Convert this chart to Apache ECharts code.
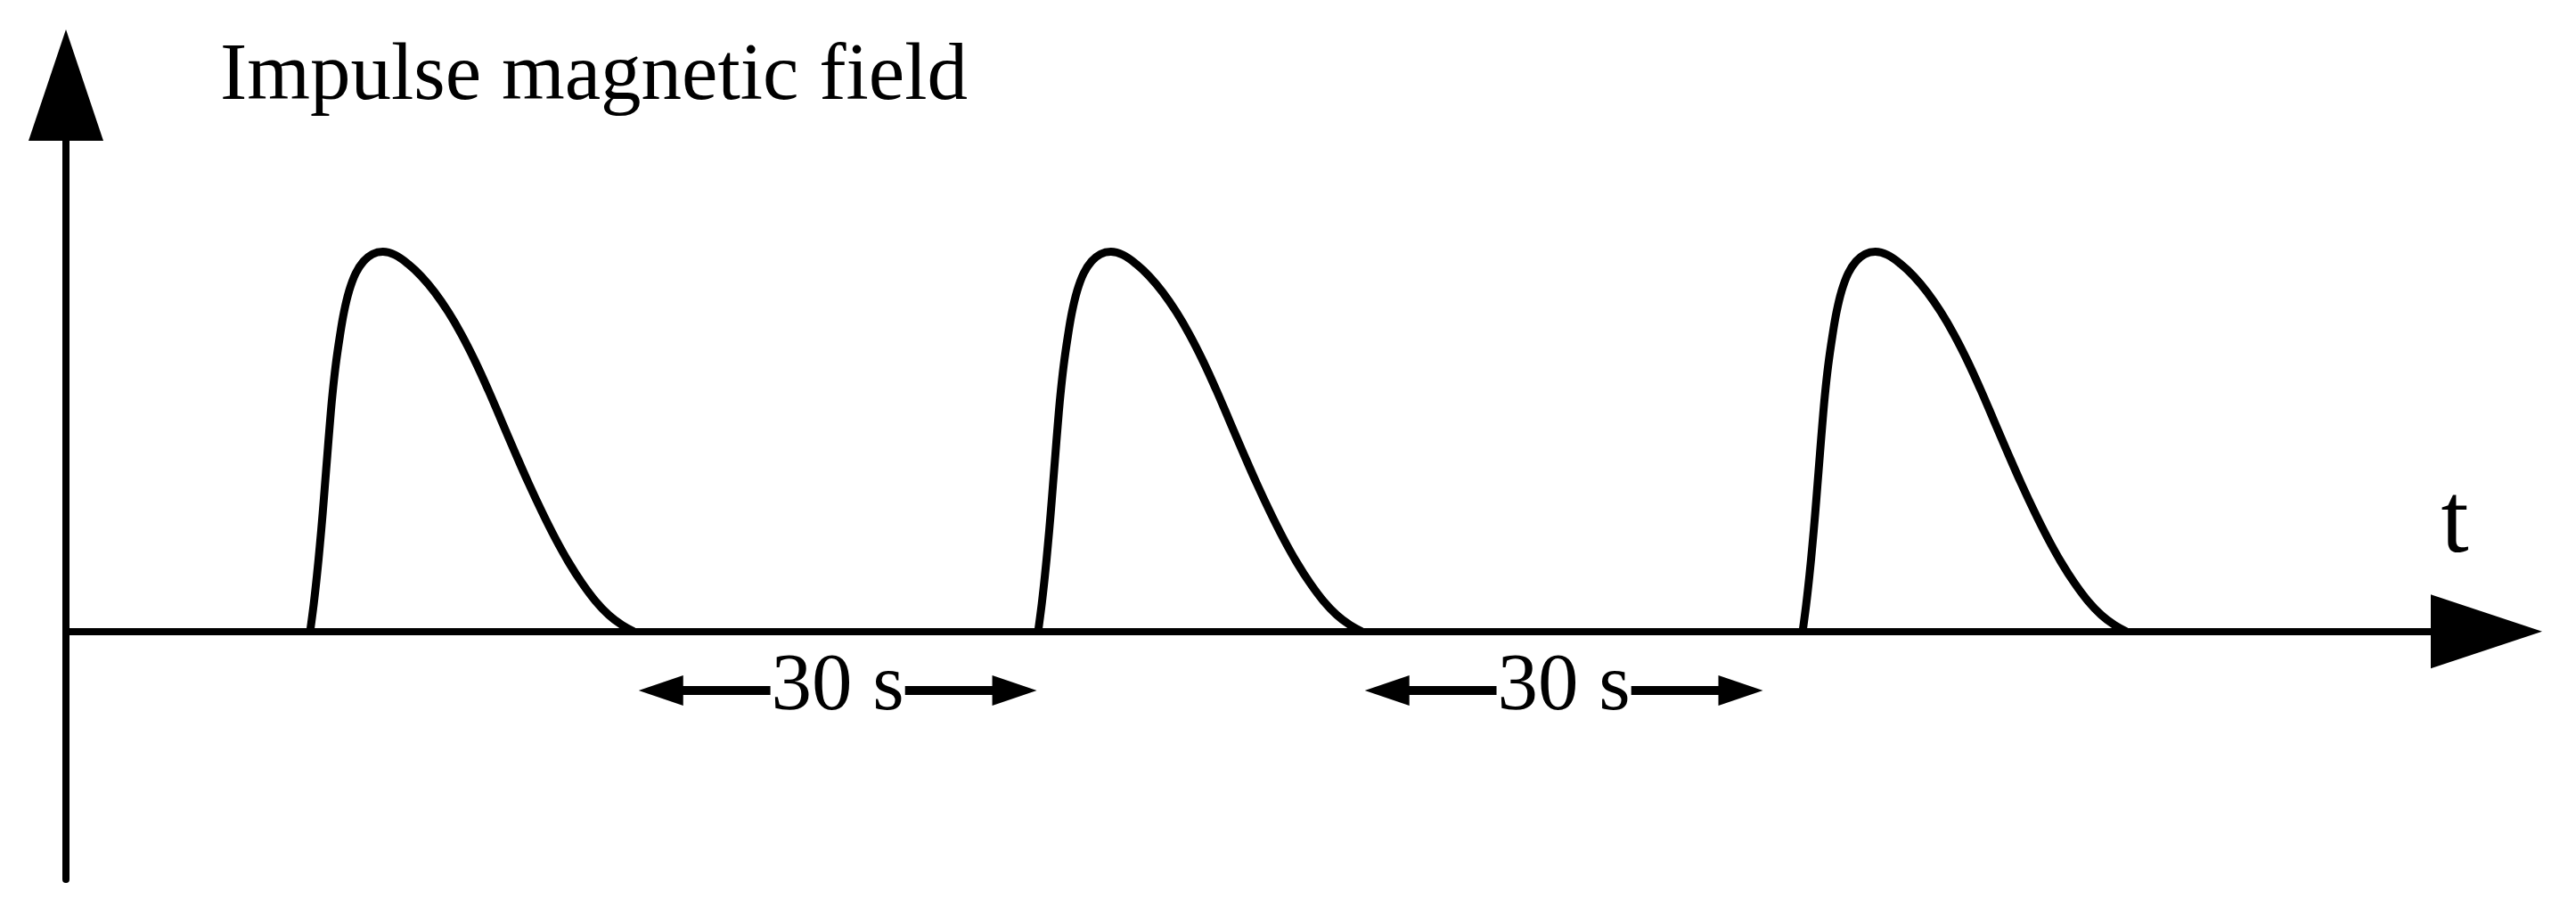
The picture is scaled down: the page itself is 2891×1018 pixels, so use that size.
<!DOCTYPE html>
<html>
<head>
<meta charset="utf-8">
<script src="https://cdn.jsdelivr.net/npm/echarts@6/dist/echarts.min.js"></script>
<style>
  html, body { margin: 0; padding: 0; background: #fff; }
  #chart { width: 2891px; height: 1018px; }
</style>
</head>
<body>
<div id="chart"></div>
<script>
// time axis in seconds, field in relative units (peak = 1)
const X_MAX = 183
const Y_MIN = -0.6526
const Y_MAX = 1.439

// start time of each impulse
const pulseStart = [18.46, 73.5, 131.3]
// one impulse: time from its start (s) and field
const shapeT = [0, 0.27, 0.52, 0.74, 0.94, 1.12, 1.30, 1.48, 1.68, 1.93, 2.25, 2.56, 2.94, 3.44, 4.04, 4.72, 5.50,
  6.40, 7.41, 8.42, 9.43, 10.44, 11.45, 12.46, 13.47, 14.48, 15.49, 16.50, 17.52, 18.53, 19.54, 20.55, 21.56, 22.57, 23.58, 24.47]
const shapeB = [0, 0.071, 0.149, 0.228, 0.307, 0.385, 0.464, 0.542, 0.621, 0.700, 0.778, 0.841, 0.896, 0.943, 0.975, 0.994, 1.0,
  0.992, 0.968, 0.935, 0.893, 0.842, 0.782, 0.713, 0.636, 0.554, 0.472, 0.392, 0.316, 0.246, 0.183, 0.128, 0.081, 0.044, 0.017, 0]

// the "30 s" pauses between impulses
const gapFrom = [43.3, 98.2]
const gapTo = [73.4, 128.3]
const gapText = ['30 s', '30 s']
const gapLevel = -0.155

const FONT = "'Liberation Serif', 'Times New Roman', serif"

const chart = echarts.init(document.getElementById('chart'))

const pulseSeries = pulseStart.map((t0, i) => ({
  name: 'pulse' + (i + 1),
  type: 'line',
  smooth: 0.4,
  showSymbol: false,
  symbol: 'none',
  clip: false,
  silent: true,
  z: 4,
  lineStyle: { color: '#000', width: 9, join: 'round' },
  data: shapeT.map((dt, k) => [t0 + dt, shapeB[k]])
}))

// double-headed arrow with the label sitting in the middle of it
const renderGap = (params, api) => {
  const a = api.coord([api.value(0), api.value(2)])
  const b = api.coord([api.value(1), api.value(2)])
  const headLen = 50
  const headHalf = 17
  const shaftHalf = 5
  const y = a[1]
  return {
    type: 'group',
    children: [
      {
        type: 'polygon',
        shape: {
          points: [
            [a[0], y],
            [a[0] + headLen, y - headHalf],
            [a[0] + headLen, y - shaftHalf],
            [b[0] - headLen, y - shaftHalf],
            [b[0] - headLen, y - headHalf],
            [b[0], y],
            [b[0] - headLen, y + headHalf],
            [b[0] - headLen, y + shaftHalf],
            [a[0] + headLen, y + shaftHalf],
            [a[0] + headLen, y + headHalf]
          ]
        },
        style: { fill: '#000' }
      },
      {
        type: 'text',
        x: (a[0] + b[0]) / 2,
        y: y - 3,
        style: {
          text: gapText[params.dataIndex],
          fontFamily: FONT,
          fontSize: 91,
          fill: '#000',
          align: 'center',
          verticalAlign: 'middle',
          backgroundColor: '#fff',
          padding: [0, 1]
        }
      }
    ]
  }
}

const option = {
  animation: false,
  backgroundColor: '#fff',
  color: ['#000'],
  grid: {
    left: 74,
    right: 100.5,
    top: 95.5,
    bottom: 31
  },
  xAxis: {
    type: 'value',
    min: 0,
    max: X_MAX,
    name: 't',
    nameLocation: 'end',
    nameGap: -35.5,
    nameTextStyle: {
      fontFamily: FONT,
      fontSize: 112,
      color: '#000',
      align: 'center',
      verticalAlign: 'bottom',
      padding: [0, 0, 63, 0]
    },
    axisLine: {
      onZero: true,
      symbol: ['none', 'triangle'],
      symbolSize: [83, 125],
      lineStyle: { color: '#000', width: 8 }
    },
    axisTick: { show: false },
    axisLabel: { show: false },
    splitLine: { show: false }
  },
  yAxis: {
    type: 'value',
    min: Y_MIN,
    max: Y_MAX,
    name: 'Impulse magnetic field',
    nameLocation: 'end',
    nameGap: -37,
    nameTextStyle: {
      fontFamily: FONT,
      fontSize: 91,
      color: '#000',
      align: 'left',
      verticalAlign: 'bottom',
      padding: [0, 0, 0, 173]
    },
    axisLine: {
      show: true,
      onZero: false,
      symbol: ['none', 'triangle'],
      symbolSize: [84, 125],
      lineStyle: { color: '#000', width: 8 }
    },
    axisTick: { show: false },
    axisLabel: { show: false },
    splitLine: { show: false }
  },
  series: [
    ...pulseSeries,
    {
      name: 'gaps',
      type: 'custom',
      silent: true,
      z: 5,
      renderItem: renderGap,
      encode: { x: [0, 1], y: 2 },
      data: gapFrom.map((t, i) => [t, gapTo[i], gapLevel])
    }
  ]
}

chart.setOption(option)
window.addEventListener('resize', () => chart.resize())
</script>
</body>
</html>
